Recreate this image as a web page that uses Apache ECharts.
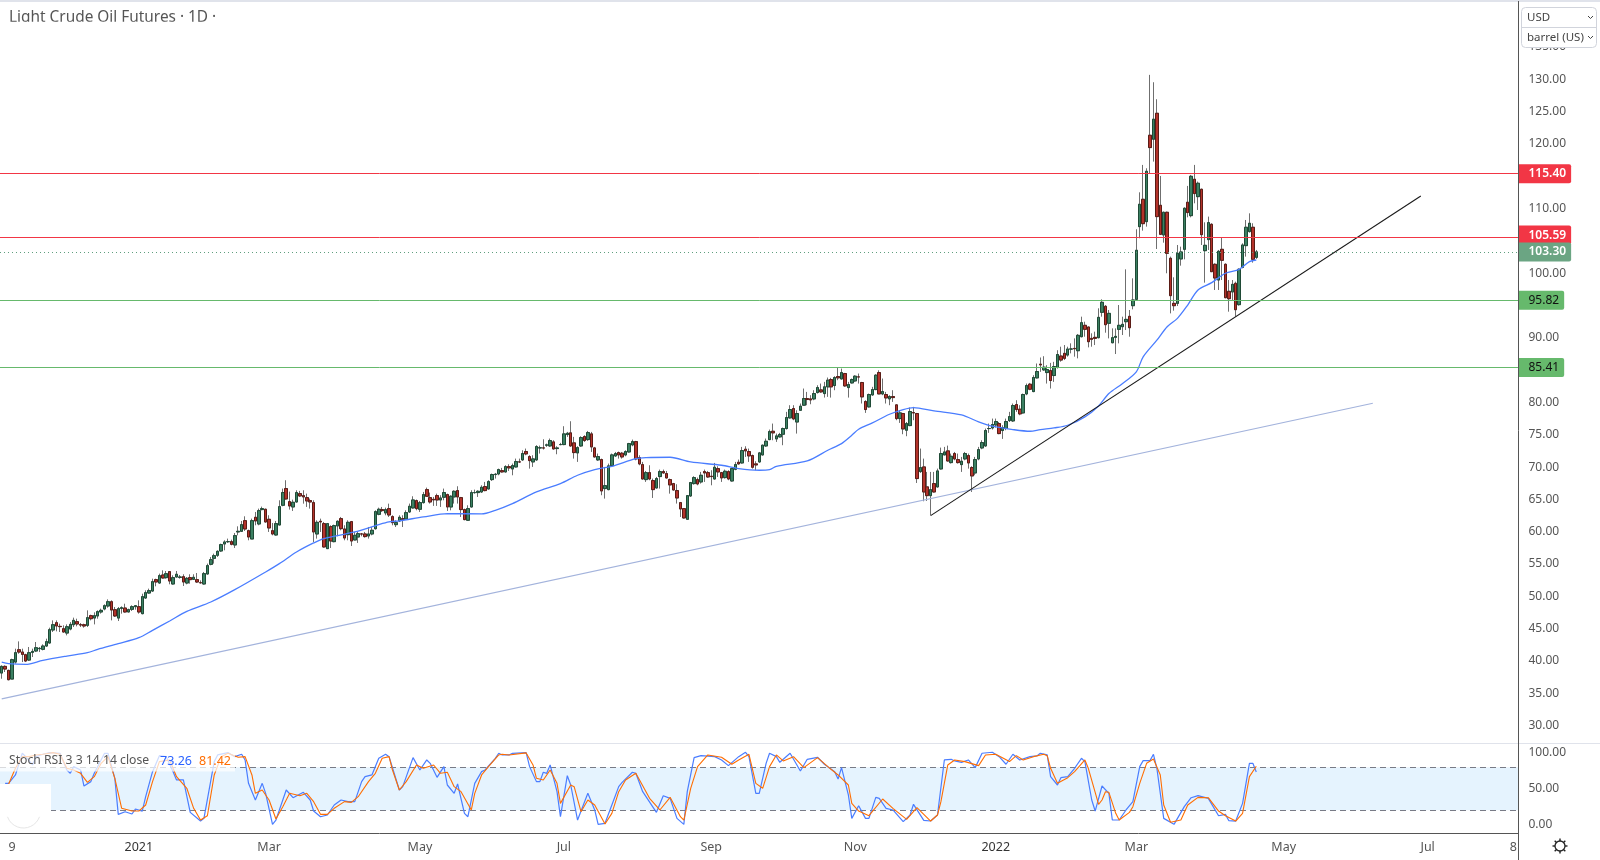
<!DOCTYPE html>
<html><head><meta charset="utf-8">
<style>html,body{margin:0;padding:0;background:#fff}#c{width:1600px;height:860px}</style>
<script src="https://cdn.jsdelivr.net/npm/echarts@6/dist/echarts.min.js"></script>
</head><body><div id="c"></div>
<script>
const title = "Light Crude Oil Futures · 1D ·";
const tickIndex = [3,40,78,122,164,207,249,290,331,374,416,441];
const tickLabels = ["9","2021","Mar","May","Jul","Sep","Nov","2022","Mar","May","Jul","8"];
const priceTicks = [30,35,40,45,50,55,60,65,70,75,80,85,90,95,100,105,110,115,120,125,130,135,140];
const stochTicks = [0,50,100];
const resistance = [115.40,105.59];
const support = [95.82,85.41];
const lastPrice = 103.30;
const stochLevels = [20,80];
// open, close, low, high
const ohlc = [
[38.14,39.17,37.26,39.33],[39.17,38.76,38.30,39.33],[38.55,37.11,37.01,38.66],[37.21,40.21,37.21,40.36],[39.84,41.29,39.59,41.91],[41.75,41.39,41.13,43.04],[41.39,41.03,39.84,41.91],[40.98,40.00,39.84,41.13],[40.15,41.29,40.00,42.17],[41.34,41.49,40.62,41.91],
[41.55,42.06,41.39,42.94],[41.91,41.96,41.39,42.17],[41.81,42.32,41.65,42.58],[42.32,43.0,42.17,43.46],[42.79,44.85,42.68,45.16],[44.80,45.62,44.49,46.29],[45.93,45.42,44.59,46.29],[45.36,45.32,44.49,45.78],[45.0,44.49,44.39,45.52],[44.33,45.31,43.97,45.67],
[44.95,45.67,44.75,46.03],[45.62,46.29,45.26,46.71],[46.09,45.73,45.37,46.55],[45.62,45.57,45.26,45.88],[45.62,45.42,45.16,45.78],[45.52,46.71,45.26,47.84],[47.02,46.55,46.29,47.17],[46.65,47.02,45.67,47.53],[46.97,47.64,46.55,47.84],[47.59,47.84,47.33,48.1],
[48.05,48.56,47.84,48.77],[48.51,49.18,48.25,49.54],[49.18,47.89,46.29,49.39],[47.94,46.97,46.81,48.36],[46.65,48.1,46.19,48.36],[48.15,48.25,47.33,48.46],[48.2,47.59,47.48,48.87],[47.59,47.95,47.53,48.1],[48.0,48.41,47.74,48.62],[48.41,48.56,47.95,48.62],
[48.41,47.59,47.33,49.39],[47.33,49.96,47.22,50.42],[49.75,50.58,49.6,50.94],[50.52,50.89,50.42,51.2],[50.83,52.28,50.68,52.74],[52.59,52.23,51.56,52.74],[52.07,53.21,51.97,53.52],[53.31,52.85,52.74,54.03],[52.9,53.52,52.74,53.93],[53.83,52.38,51.87,53.83],
[51.92,52.9,51.82,53.26],[53.0,53.42,52.9,53.93],[52.95,53.0,52.74,53.31],[53.05,52.23,51.61,53.42],[52.07,52.79,51.87,53.0],[52.9,52.59,51.97,53.42],[52.64,52.95,52.59,53.42],[52.59,52.23,52.07,53.62],[52.12,52.12,51.97,52.48],[51.92,53.52,51.82,53.78],
[53.47,54.76,53.36,55.07],[54.96,55.68,54.81,56.1],[55.89,56.3,55.07,56.61],[56.36,56.97,56.1,57.13],[57.03,58.01,56.87,58.16],[58.11,58.42,57.13,58.68],[58.47,58.47,58.27,58.94],[58.47,58.06,57.9,58.78],[57.96,59.4,57.49,59.81],[59.97,60.07,59.45,60.84],
[60.07,61.1,59.97,61.67],[61.72,60.43,60.12,62.39],[60.17,59.19,58.68,60.33],[58.88,61.72,58.88,62.03],[62.24,61.67,61.0,63.06],[61.21,63.27,61.0,63.58],[63.43,63.58,63.32,63.89],[63.48,61.52,61.41,63.58],[61.93,60.59,59.97,62.55],[60.17,59.66,59.45,61.36],
[59.5,61.26,59.4,61.67],[61.05,63.89,61.0,64.87],[64.1,66.06,63.94,66.68],[66.68,65.08,64.97,67.97],[64.66,63.99,63.43,66.21],[63.84,64.56,63.22,64.97],[64.61,66.06,64.51,66.42],[65.9,65.54,65.39,66.32],[65.59,65.39,64.35,66.42],[65.28,64.77,63.84,65.9],
[64.82,64.61,63.58,65.13],[64.51,59.97,58.42,64.87],[59.66,61.46,58.94,61.77],[61.62,61.52,59.97,62.03],[61.26,57.65,57.54,61.52],[57.39,61.26,57.39,61.36],[60.79,58.57,57.49,61.0],[58.47,60.95,58.37,61.1],[60.9,61.62,59.3,61.77],[62.03,60.48,60.23,62.29],
[60.43,59.04,58.68,61.0],[59.55,61.46,58.68,61.77],[61.57,58.57,57.8,61.67],[58.73,59.45,58.68,59.97],[59.19,59.71,58.27,60.12],[59.66,59.66,59.3,59.81],[59.66,59.25,59.09,59.97],[59.35,59.66,58.94,60.74],[59.66,60.23,59.45,60.74],[60.48,63.12,60.33,63.32],
[62.7,63.48,62.55,63.73],[63.43,63.27,63.06,63.84],[62.91,63.43,62.55,63.73],[63.58,62.6,62.29,64.35],[62.34,61.41,61.0,62.55],[61.1,61.41,60.74,61.77],[61.67,62.24,61.52,62.55],
[62.03,61.88,60.74,62.55],[61.98,62.96,61.88,63.32],[63.07,63.94,62.91,64.36],[63.69,64.92,63.58,65.49],[64.82,63.58,63.32,64.98],[63.48,64.51,63.07,64.77],[64.51,65.75,64.36,66.16],[66.52,65.49,65.39,66.83],[65.28,64.61,64.36,66.06],[65.02,64.93,64.0,65.39],
[65.59,64.92,64.0,65.9],[64.92,65.23,63.84,65.65],[65.34,66.06,64.87,66.68],[65.75,63.84,63.22,65.9],[63.84,65.49,63.32,65.65],[65.39,66.26,64.36,66.42],[66.37,65.39,64.36,67.04],[65.28,63.43,62.29,65.39],[63.43,61.88,61.78,63.58],[61.78,63.58,61.67,64.1],
[63.84,66.06,63.74,66.42],[66.06,66.06,65.9,66.52],[66.06,66.26,65.39,66.42],[66.16,66.88,66.01,67.19],[66.99,66.37,66.26,67.71],[66.63,67.76,66.52,67.97],[68.07,68.85,67.86,69.0],[68.85,68.9,68.23,69.1],[68.95,69.62,68.74,69.77],[69.46,69.26,69.16,69.88],
[69.26,70.08,69.16,70.29],[70.08,69.88,69.41,70.44],[69.72,70.24,68.74,70.55],[70.03,70.86,69.93,71.32],[70.81,70.81,70.65,71.32],[71.12,72.1,70.96,72.61],[72.41,72.05,71.84,72.87],[71.63,71.01,69.77,71.84],[70.81,71.27,70.03,71.84],[71.12,73.18,70.96,73.39],
[72.97,73.0,72.1,73.33],[72.97,72.97,72.72,74.31],[73.39,73.44,73.13,73.64],[73.28,74.11,73.13,74.42],[73.9,72.82,72.72,74.16],[72.87,72.97,71.99,73.23],[73.49,73.49,73.39,73.75],[73.49,75.14,73.39,76.33],[75.04,75.24,74.68,75.45],[75.3,73.28,73.13,77.1],
[73.75,72.25,71.32,74.68],[72.2,73.02,70.81,73.23],[73.28,74.57,73.13,74.78],[74.73,74.11,73.9,74.93],[74.26,75.35,74.06,75.6],[75.14,73.13,72.35,75.45],[72.97,71.58,71.48,73.13],[71.12,71.63,70.96,72.1],[71.17,66.32,65.65,71.32],[66.68,67.14,65.13,70.03],
[66.52,70.19,66.42,70.55],[70.24,71.89,70.13,72.1],[71.73,72.1,71.58,72.35],[72.25,71.89,71.32,72.41],[72.15,71.58,71.32,72.35],[71.89,72.41,71.68,72.61],[72.35,73.64,72.25,73.75],[73.44,73.95,73.23,74.26],[73.95,71.27,71.06,74.06],[71.48,70.5,70.29,71.84],
[70.39,68.17,68.07,70.81],[68.07,69.15,67.71,69.41],[69.15,68.17,67.97,70.29],[67.92,66.52,65.23,68.23],[66.78,68.23,66.68,68.48],[68.54,69.31,66.68,69.62],[69.31,69.1,68.98,69.62],[69.0,68.33,68.23,69.41],[68.07,67.25,65.9,68.23],[67.45,66.47,66.37,67.56],
[66.37,65.23,64.36,67.35],[64.51,63.53,62.29,64.61],[63.58,62.14,62.03,63.68],[61.93,65.59,61.88,65.65],[65.54,67.61,65.39,67.71],[67.45,68.38,67.29,68.59],[68.07,67.4,67.19,68.38],[67.71,68.74,67.45,69.26],[69.31,69.1,67.71,69.62],[69.15,68.48,68.33,69.41],
[68.59,68.54,67.19,69.52],[68.17,69.98,68.07,70.65],[69.77,69.26,68.48,70.14],[69.15,68.33,67.71,69.26],[68.38,69.36,68.23,69.62],[69.31,68.17,67.97,69.52],[67.86,69.77,67.76,69.93],[69.67,70.39,69.52,70.81],[70.75,70.5,70.39,71.17],[70.65,72.56,70.55,73.13],
[72.77,72.51,71.58,73.23],[72.41,71.74,70.81,72.87],[71.79,69.98,69.77,71.94],[70.5,70.34,69.52,70.91],[70.81,72.2,70.65,72.35],[71.89,73.39,71.79,73.49],[73.28,74.0,73.13,74.42],[74.26,75.5,74.16,75.81],[75.55,75.3,74.16,76.74],[74.37,74.83,73.9,75.19],[74.68,75.04,74.57,75.3],
[75.09,75.97,73.39,76.12],[75.97,77.67,75.81,78.55],[77.62,78.91,77.51,79.58],[79.06,77.46,77.26,79.58],[76.98,78.29,75.19,78.8],[78.8,79.42,78.7,79.84],[79.58,80.61,79.47,82.16],[80.61,80.46,79.58,81.64],[80.56,80.4,79.73,81.13],[80.56,81.38,80.35,81.9],
[81.54,82.31,81.38,82.67],[81.95,81.64,81.49,82.93],[81.38,82.42,80.76,83.19],[82.42,83.45,80.87,83.86],[83.55,82.42,80.76,83.81],[82.62,83.86,81.9,84.07],[84.02,83.81,83.45,85.41],[83.65,84.63,83.55,85.25],[84.48,82.57,82.42,84.58],[82.31,82.78,80.76,83.19],
[83.03,83.55,82.93,83.71],[83.34,84.07,83.19,84.22],[83.96,83.96,82.93,84.48],[83.09,80.87,79.84,83.19],[80.15,78.91,78.39,80.35],[79.32,81.23,79.22,81.38],[81.18,82.0,81.02,82.42],[82.0,84.22,81.9,84.38],[84.63,81.33,81.28,84.98],[81.33,81.69,81.13,83.71],
[81.23,80.71,79.84,81.64],[80.56,80.92,79.58,81.13],[80.92,80.76,80.09,81.9],[79.63,77.51,77.26,79.73],[77.51,78.39,76.84,78.8],[78.29,75.91,75.09,78.39],[75.71,76.74,74.78,76.98],[76.43,78.6,76.33,79.22],[78.44,78.39,77.26,79.32],[78.29,68.23,67.55,78.39],
[69.31,69.93,69.1,72.87],[70.03,66.16,64.72,71.32],[66.94,65.59,64.77,69.26],[65.59,66.52,62.55,69.26],[67.45,66.16,66.06,69.26],[66.94,69.41,66.83,69.77],[69.72,72.1,69.62,73.02],[71.89,72.35,71.84,73.13],[72.51,70.96,70.86,73.33],[70.7,71.68,70.55,72.1],
[72.1,71.27,71.06,72.35],[71.17,70.7,70.55,72.1],[70.39,70.91,69.26,71.58],[71.27,72.1,71.06,72.35],[71.79,70.65,69.77,72.1],[69.93,68.64,66.16,70.14],[69.1,71.17,68.74,71.58],[71.27,72.71,71.06,73.13],[72.97,73.8,72.77,74.16],[73.28,75.66,73.13,75.97],
[75.97,75.97,75.3,76.74],[76.07,76.59,75.81,77.51],[76.53,77.05,76.12,77.51],[76.74,75.19,75.09,76.98],[75.66,76.12,74.37,76.48],[75.97,77.05,75.71,77.51],[77.2,77.82,76.98,78.55],[77.15,79.53,76.98,79.84],[79.68,78.91,78.55,80.35],[78.96,78.24,78.03,79.58],
[78.39,81.23,78.29,81.38],[81.33,82.62,81.13,82.93],[82.83,82.05,81.9,83.03],[81.69,83.86,81.59,84.22],[83.81,84.79,83.71,86.03],[85.92,85.82,84.74,86.96],[85.05,85.46,84.89,87.16],[84.63,85.1,82.93,85.77],[84.94,83.4,82.16,86.13],[84.17,85.56,83.19,86.29],[85.41,87.42,85.25,88.09],
[87.19,86.57,86.31,88.63],[87.6,86.83,86.57,88.89],[87.34,88.27,87.09,88.63],[88.27,88.27,87.6,89.15],[88.37,88.32,87.09,89.92],[88.01,90.39,86.83,90.6],[90.18,92.35,90.08,93.28],[91.94,91.32,90.18,92.5],[91.68,89.41,88.53,91.73],[89.92,89.77,88.63,90.7],
[90.08,89.92,88.89,90.96],[90.03,93.17,89.92,94.57],[93.95,95.5,93.28,95.96],[94.88,92.04,90.8,95.08],[92.25,93.79,89.92,94.31],[89.25,90.03,89.15,91.47],[90.08,90.23,87.5,91.47],[91.32,91.94,89.15,95.08],[91.73,92.09,90.44,93.28],[92.5,92.86,91.21,100.6],
[93.33,91.57,90.18,94.31],[94.98,95.86,94.41,99.21],[95.96,103.55,95.86,106.8],[107.21,110.67,105.41,112.52],[111.44,107.67,106.59,116.76],[107.98,115.77,107.21,116.24],[121.35,119.44,115.47,130.69],[120.73,123.83,117.27,129.55],[124.75,108.76,103.75,126.92],[110.51,106.02,105.92,115.05],
[105.92,109.43,104.73,109.53],[109.43,103.08,99.99,109.53],[102.31,96.53,93.79,102.57],[95.34,94.98,94.21,99.37],[95.34,103.08,94.93,104.37],[102.21,103.29,101.17,104.11],[103.7,110.05,102.15,110.2],[110.98,109.38,108.65,113.51],[108.91,115.0,108.65,115.21],[114.54,112.32,110.82,116.76],
[111.85,113.92,109.79,114.18],[112.99,105.97,104.37,113.09],[103.49,104.32,98.54,107.88],[105.2,107.83,103.6,108.76],[107.57,100.24,100.24,107.73],[101.38,99.26,97.41,101.53],[98.95,103.39,97.41,103.6],[103.7,102.0,98.95,105.56],[101.38,96.22,96.12,101.53],[97.2,96.06,94.05,98.95],
[97.1,98.28,95.86,98.95],[98.44,94.36,93.28,98.7],[95.14,100.6,94.98,100.76],[100.91,104.37,100.76,104.63],[104.27,107.11,102.57,108.24],[106.44,107.73,106.28,109.27],[107.11,102.15,101.64,107.73],[102.46,103.3,102.21,103.6]
];
// bar index, value
const ma50 = [[0,39.84],[2,39.59],[7,39.48],[12,40.1],[19,40.77],[25,41.29],[28,41.8],[34,42.68],[40,43.61],[44,44.75],[49,46.19],[54,47.69],[61,49.13],[68,51.04],[77,53.78],[81,55.07],[86,56.87],[91,58.27],[94,58.94],[103,59.97],[110,61.1],[113,61.52],[116,61.7],[123,62.29],[130,62.81],[140,62.76],[144,63.32],[149,64.36],[156,66.16],[163,67.45],[168,68.74],[173,69.62],[178,70.13],[185,71.32],[188,71.48],[195,71.53],[201,70.81],[210,70.29],[215,69.77],[221,69.52],[224,69.62],[226,70.13],[235,70.96],[241,72.61],[245,73.64],[248,74.93],[250,75.86],[254,76.84],[259,78.18],[263,78.91],[266,79.22],[272,78.7],[280,78.08],[285,77.0],[289,76.33],[295,75.81],[300,75.55],[303,75.81],[307,76.07],[311,76.48],[316,77.77],[320,79.47],[323,81.38],[327,82.93],[331,84.74],[333,87.06],[337,89.64],[340,91.73],[343,93.02],[346,95.08],[349,97.41],[353,98.54],[357,100.0],[361,100.6],[364,101.79],[366,102.05]];
const trendLight = [[0,34.15],[400,79.88]];
const trendBlack = [[271,62.5],[414,111.95]];
const stochK = [[1,57.5],[2,57.5],[4,69.2],[6,99.4],[7,94.7],[9,83.1],[10,94.7],[12,98],[14,100.3],[17,99.4],[19,76.1],[20,71.5],[21,80.8],[23,76.1],[24,53.8],[26,59.9],[27,71.5],[30,99.4],[31,99.4],[33,64.5],[34,14.3],[36,18],[38,14.8],[39,21.7],[41,18.9],[42,38.9],[44,73.8],[46,96.1],[48,94.7],[50,73.8],[51,62.2],[53,62.2],[55,17.1],[58,5],[59,8.7],[62,87.8],[63,97.1],[66,100.3],[68,94.7],[70,98],[71,90.1],[72,57.5],[74,34.3],[76,57.5],[77,43.6],[79,0.4],[80,6.4],[83,48.2],[85,37.5],[88,45],[90,34.3],[91,18.9],[93,11],[95,13.4],[97,27.3],[99,34.3],[101,32],[103,32],[105,59.9],[106,66.8],[108,69.2],[110,92.4],[112,98],[113,94.7],[116,48.2],[117,52.9],[120,93.3],[122,76.1],[124,90.1],[125,85.4],[127,65.9],[129,80.8],[130,55.2],[132,43.6],[133,56.6],[135,15.7],[136,11],[138,57.5],[140,73.8],[141,76.1],[144,92.4],[145,99.4],
[146,97.1],[148,97.1],[149,99.4],[153,100.3],[154,80.8],[156,59.9],[157,59.9],[158,72.9],[159,71.5],[160,83.1],[162,45.9],[163,11],[165,68.2],[166,55.2],[168,6.4],[171,43.6],[173,20.4],[174,0.4],[176,1.8],[178,27.3],[180,52.9],[181,58.9],[184,72.9],[185,71.5],[187,45.9],[191,17.1],[193,40.3],[195,36.6],[197,8.7],[199,0.4],[200,45.9],[202,93.3],[204,96.1],[208,94.7],[210,90.1],[212,82.2],[215,94.7],[217,100.8],[218,94.7],[220,43.6],[221,43.6],[223,85.4],[224,99.4],[226,94.7],[227,86.8],[230,99.4],[233,74.7],[235,91],[238,93.8],[240,84.1],[243,73.8],[244,63.6],[245,79.4],[247,41.3],[248,8.7],[250,26.4],[252,8.7],[253,8.7],[255,38],[256,36.6],[258,22.7],[260,20.4],[263,4.1],[265,13.4],[266,28.3],[269,5.9],[271,5],[273,13.4],[275,90.1],[277,91],[278,88.7],[280,86.8],[282,90.1],[284,79.4],[286,99.4],[289,100.8],
[291,94.7],[293,84.1],[295,98],[297,90.1],[300,94.7],[302,95.7],[303,99.4],[305,97.1],[306,66.8],[308,55.2],[309,65.4],[311,66.8],[313,78.5],[315,92.4],[316,87.8],[318,34.3],[319,18.9],[321,53.8],[323,43.6],[324,6.4],[326,6.4],[328,20.4],[330,32],[332,80.8],[333,89.2],[335,89.2],[336,98],[337,78.5],[339,8.7],[342,0.4],[345,25],[347,37.5],[349,40.3],[352,36.6],[355,12.4],[357,14.3],[358,5.5],[360,5],[362,29.6],[364,85.4],[365,85.4],[366,73.26]];
const stochD = [[2,56.2],[4,78.5],[6,94.7],[8,94.7],[10,97.1],[12,98],[15,100.3],[17,98],[19,78.5],[21,76.1],[23,71.5],[25,58.9],[27,66.8],[29,85.4],[31,94.7],[33,64.5],[35,22.7],[38,18.9],[40,18.9],[42,27.3],[44,59.9],[46,87.8],[49,90.1],[51,66.8],[54,50.6],[56,22.7],[58,6.4],[60,12.4],[62,69.2],[64,94.7],[66,99.4],[69,93.8],[71,94.7],[73,69.2],[74,43.6],[76,48.2],[78,34.3],[80,7.8],[82,25],[84,43.6],[87,40.3],[89,43.6],[91,32],[93,14.3],[95,14.3],[97,22.7],[100,32],[102,31],[104,38.9],[107,59.9],[109,71.5],[111,92.4],[113,94.7],[114,76.1],[116,48.2],[118,59.9],[121,83.1],[123,78.5],[126,83.1],[128,71.5],[130,72.9],[132,52.9],[134,45.9],[137,20.4],[138,43.6],[140,69.2],[142,80.8],[145,97.1],
[146,98],[148,97.1],[153,99.9],[155,83.1],[156,64.5],[158,62.2],[160,76.1],[162,57.5],[163,29.6],[166,55.2],[167,52.9],[169,18],[171,34.3],[173,27.3],[176,0.8],[178,15.7],[180,45.9],[182,62.2],[185,71.5],[189,36.6],[192,20.4],[195,38],[198,11],[199,6.4],[201,50.6],[203,80.8],[206,97.1],[210,93.8],[213,84.1],[215,90.1],[218,98],[220,57.5],[222,50.6],[224,80.8],[226,97.1],[228,88.7],[231,94.7],[234,79.4],[238,93.3],[241,80.8],[244,69.2],[247,55.2],[248,29.6],[250,18.9],[253,12.4],[257,35.7],[260,22.7],[264,7.3],[267,23.6],[271,5],[273,13.4],[274,32],[276,83.1],[278,90.1],[281,87.8],[285,82.2],[287,97.1],[290,98],
[294,87.8],[296,96.1],[298,90.1],[301,94.7],[304,98],[305,96.1],[306,78.5],[308,57.5],[311,65.4],[313,73.8],[316,90.1],[317,78.5],[320,28.3],[321,34.3],[322,45.9],[323,45],[325,15.7],[326,6.4],[329,17.1],[330,25],[332,57.5],[334,85.4],[336,91.5],[338,69.2],[339,27.3],[341,3.2],[344,6.4],[346,27.3],[349,38],[352,37.5],[355,18.9],[357,12.4],[360,5],[362,15.7],[364,66.8],[366,81.42]];

const slotCount = 443;
const categories = Array.from({length:slotCount},()=> "");
tickIndex.forEach((i,k)=>{categories[i]=tickLabels[k];});

const FONT = '"Noto Sans", sans-serif';
const GREY = '#555';
const RED = '#f23645', GREEN = '#66b96c', LAST = '#6ba583';

function levelLine(v,color,bg,txt,padR,type,off){
  return {yAxis:v,
    lineStyle:{color:color,width:1,type:type||'solid'},
    label:{show:true,position:'end',distance:0,formatter:v.toFixed(2),color:txt,fontFamily:FONT,fontSize:12,
      fontWeight:txt==='#fff'?600:400,backgroundColor:bg,padding:[4,padR,3,10],borderRadius:[0,2,2,0],offset:off||[0,0]}};
}
const levels = [
  levelLine(resistance[0],RED,RED,'#fff',5),
  levelLine(resistance[1],RED,RED,'#fff',5,'solid',[0,-2]),
  ...support.map(v=>levelLine(v,GREEN,GREEN,'#111',5)),
  levelLine(lastPrice,'#5f9e7e',LAST,'#fff',5,[1,3])
];

const gear = [];
for(let a=0;a<8;a++){
  const t=a*Math.PI/4, c=Math.cos(t), s=Math.sin(t);
  gear.push({type:'line',z:120,silent:true,shape:{x1:1560+c*5,y1:846+s*5,x2:1560+c*7.5,y2:846+s*7.5},style:{stroke:'#222',lineWidth:1.4}});
}
const chevron = (x,y)=>({type:'polyline',z:130,silent:true,shape:{points:[[x-2.5,y-1.5],[x,y+1],[x+2.5,y-1.5]]},style:{stroke:'#444',lineWidth:1,fill:null}});

const chart = echarts.init(document.getElementById('c'),null,{renderer:'canvas'});
chart.setOption({
  animation:false,
  backgroundColor:'#fff',
  grid:[
    {left:-0.7,top:1,width:1519.2,height:742.3,containLabel:false},
    {left:-0.7,top:743.3,width:1519.2,height:90,containLabel:false}
  ],
  xAxis:[
    {type:'category',gridIndex:0,data:categories,show:false,boundaryGap:true},
    {type:'category',gridIndex:1,data:categories,boundaryGap:true,
      axisLine:{show:false},axisTick:{show:false},splitLine:{show:false},
      axisLabel:{show:true,margin:8,color:GREY,fontFamily:FONT,fontSize:12.5,hideOverlap:false,
        interval:(i)=>tickIndex.includes(i),
        formatter:(v)=>/^20/.test(v)?'{b|'+v+'}':v,
        rich:{b:{color:'#333',fontFamily:FONT,fontSize:12.5}}}}
  ],
  yAxis:[
    {type:'value',gridIndex:0,position:'right',min:27.27,max:142.12,scale:true,
      axisLine:{show:false},axisTick:{show:false},splitLine:{show:false},
      axisLabel:{show:true,margin:10,color:GREY,fontFamily:FONT,fontSize:12,padding:[1,0,0,0],customValues:priceTicks,formatter:(v)=>v.toFixed(2)}},
    {type:'value',gridIndex:1,position:'right',min:-12.1,max:113.3,scale:true,
      axisLine:{show:false},axisTick:{show:false},splitLine:{show:false},
      axisLabel:{show:true,margin:10,color:GREY,fontFamily:FONT,fontSize:12,padding:[2,0,0,0],customValues:stochTicks,formatter:(v)=>v.toFixed(2)}}
  ],
  series:[
    {name:'wicks',type:'candlestick',xAxisIndex:0,yAxisIndex:0,data:ohlc,barWidth:3,z:3,
      itemStyle:{color:'rgba(0,0,0,0)',color0:'rgba(0,0,0,0)',borderColor:'#6f6f6f',borderColor0:'#6f6f6f',borderWidth:1}},
    {name:'bodies',type:'candlestick',xAxisIndex:0,yAxisIndex:0,
      data:ohlc.map(r=>[r[0],r[1],Math.min(r[0],r[1]),Math.max(r[0],r[1])]),barWidth:3,z:4,
      itemStyle:{color:'#3b8062',color0:'#b3322a',borderColor:'#1f4a36',borderColor0:'#5a1c16',borderWidth:1}},
    {name:'levels',type:'line',xAxisIndex:0,yAxisIndex:0,data:[],z:5,
      markLine:{silent:true,symbol:'none',animation:false,z:20,data:levels}},
    {name:'MA',type:'line',xAxisIndex:0,yAxisIndex:0,data:ma50,showSymbol:false,smooth:0.3,z:6,lineStyle:{color:'#4a7dff',width:1.3}},
    {name:'trendLight',type:'line',xAxisIndex:0,yAxisIndex:0,data:trendLight,showSymbol:false,z:6,lineStyle:{color:'#a3b3dc',width:1.2}},
    {name:'trendBlack',type:'line',xAxisIndex:0,yAxisIndex:0,data:trendBlack,showSymbol:false,z:7,lineStyle:{color:'#1a1a1a',width:1.1}},
    {name:'D',type:'line',xAxisIndex:1,yAxisIndex:1,data:stochD,showSymbol:false,z:6,lineStyle:{color:'#ff6d00',width:1.1},
      markArea:{silent:true,z:1,itemStyle:{color:'#e5f3fe'},data:[[{yAxis:stochLevels[0]},{yAxis:stochLevels[1]}]]},
      markLine:{silent:true,symbol:'none',animation:false,label:{show:false},z:2,
        lineStyle:{color:'#787b86',type:[6,4],width:1},data:stochLevels.map(v=>({yAxis:v}))}},
    {name:'K',type:'line',xAxisIndex:1,yAxisIndex:1,data:stochK,showSymbol:false,z:5,lineStyle:{color:'#4a7dff',width:1.2}}
  ],
  graphic:{elements:[
    {type:'rect',z:90,silent:true,shape:{x:0,y:0,width:1600,height:2},style:{fill:'#e0e3eb'}},
    {type:'line',z:90,silent:true,shape:{x1:0,y1:743.5,x2:1600,y2:743.5},style:{stroke:'#e0e3eb',lineWidth:1}},
    {type:'line',z:95,silent:true,shape:{x1:0,y1:833.5,x2:1518,y2:833.5},style:{stroke:'#555',lineWidth:1}},
    {type:'line',z:95,silent:true,shape:{x1:1518.5,y1:1,x2:1518.5,y2:860},style:{stroke:'#555',lineWidth:1}},
    // title, clipped at the bottom as in the source
    {type:'text',z:100,silent:true,style:{x:9,y:17.5,text:title,fontFamily:FONT,fontSize:15.4,fill:'#555',textVerticalAlign:'middle',textAlign:'left'}},
    {type:'rect',z:101,silent:true,shape:{x:0,y:21.7,width:300,height:12},style:{fill:'#fff'}},
    // stoch legend
    {type:'rect',z:100,silent:true,shape:{x:0,y:751,width:235,height:20.5},style:{fill:'rgba(255,255,255,0.72)'}},
    {type:'text',z:101,silent:true,style:{x:9,y:761,text:'Stoch RSI 3 3 14 14 close',fontFamily:FONT,fontSize:12.2,fill:'#555',textVerticalAlign:'middle'}},
    {type:'text',z:101,silent:true,style:{x:160,y:761,text:'73.26',fontFamily:FONT,fontSize:12.5,fill:'#2962ff',textVerticalAlign:'middle'}},
    {type:'text',z:101,silent:true,style:{x:199,y:761,text:'81.42',fontFamily:FONT,fontSize:12.5,fill:'#ff6d00',textVerticalAlign:'middle'}},
    // logo patch
    {type:'rect',z:100,silent:true,shape:{x:0,y:784,width:51,height:33},style:{fill:'#fff'}},
    {type:'arc',z:101,silent:true,shape:{cx:23.5,cy:811,r:17,startAngle:0.35,endAngle:Math.PI-0.35},style:{stroke:'#e6e6e6',lineWidth:1,fill:null}},
    // currency / unit box
    {type:'rect',z:120,silent:true,shape:{x:1521.5,y:7.5,width:75,height:40,r:4},style:{fill:'#fff',stroke:'#d1d4dc',lineWidth:1}},
    {type:'line',z:121,silent:true,shape:{x1:1521.5,y1:27.5,x2:1596.5,y2:27.5},style:{stroke:'#d1d4dc',lineWidth:1}},
    {type:'text',z:122,silent:true,style:{x:1527,y:17.5,text:'USD',fontFamily:FONT,fontSize:11.5,fill:'#444',textVerticalAlign:'middle'}},
    {type:'text',z:122,silent:true,style:{x:1527,y:37.5,text:'barrel (US)',fontFamily:FONT,fontSize:11.5,fill:'#444',textVerticalAlign:'middle'}},
    chevron(1590.5,17.5),chevron(1590.5,37.5),
    // settings gear
    {type:'circle',z:120,silent:true,shape:{cx:1560,cy:846,r:5},style:{stroke:'#222',lineWidth:1.3,fill:'#fff'}},
    ...gear
  ]}
});
</script></body></html>
